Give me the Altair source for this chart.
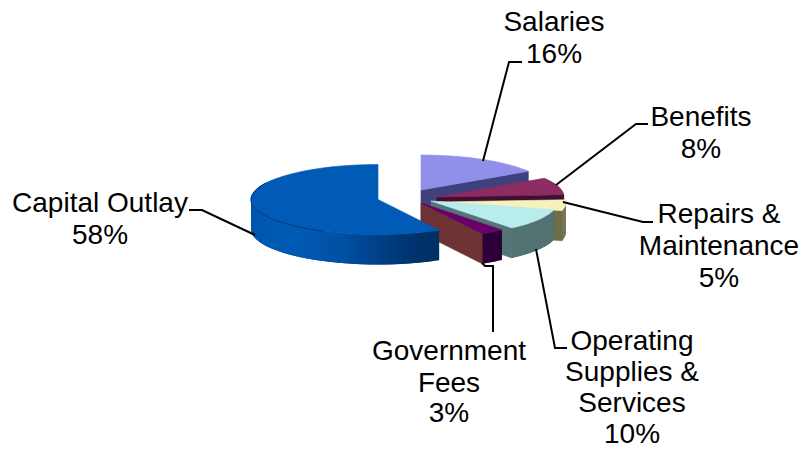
import math
import altair as alt

# Expense shares, clockwise from twelve o'clock
categories = ["Salaries", "Benefits", "Repairs & Maintenance",
              "Operating Supplies & Services", "Government Fees", "Capital Outlay"]
shares = [16, 8, 5, 10, 3, 58]

# Multi-line label text for each slice
label_lines = [
    ["Salaries", "16%"],
    ["Benefits", "8%"],
    ["Repairs &", "Maintenance", "5%"],
    ["Operating", "Supplies &", "Services", "10%"],
    ["Government", "Fees", "3%"],
    ["Capital Outlay", "58%"],
]

# Slice colours: top face, radial wall, rim stops from left to right
top_colors = ["#9090EA", "#8C2C60", "#F6F2BC", "#B9ECEC", "#68006A", "#005AB6"]
wall_colors = ["#40407E", "#3E0F30", "#6E6E48", "#547575", "#6C3234", "#00306A"]
rim_colors = [
    ["#40407E"],
    ["#4A1538"],
    ["#75755A"],
    ["#527272"],
    ["#2C0036"],
    ["#0056AC", "#005AB4", "#0050A4", "#003C80", "#002E60"],
]

# Layout in pixels
CANVAS_W, CANVAS_H = 802, 450
RX, RY, DEPTH = 127, 35, 30
centers = [(421, 190), (437, 197), (439, 202), (431, 201), (421, 203), (378, 199.5)]
label_anchor = [
    (554, [31, 63]),
    (701, [126, 158]),
    (719, [223, 255, 287]),
    (632, [350, 381, 412, 443]),
    (449, [360, 392, 422]),
    (100, [212, 244]),
]
leaders = [
    [(483, 161), (509, 62), (522, 62)],
    [(556, 185), (636, 124), (648, 124)],
    [(563, 202), (643, 222), (653, 222)],
    [(536, 249), (555, 348), (567, 348)],
    [(493, 332), (493, 266), (485, 266), (482, 263)],
    [(255, 235), (202, 210), (189, 210)],
]


def rim_point(center, angle):
    rad = math.radians(angle)
    return (center[0] + RX * math.sin(rad), center[1] - RY * math.cos(rad))


def mix(stops, t):
    if len(stops) == 1:
        return stops[0]
    pos = max(0.0, min(0.9999, t)) * (len(stops) - 1)
    i = int(pos)
    a = [int(stops[i][k:k + 2], 16) for k in (1, 3, 5)]
    b = [int(stops[i + 1][k:k + 2], 16) for k in (1, 3, 5)]
    f = pos - i
    return "#%02x%02x%02x" % tuple(round(p + (q - p) * f) for p, q in zip(a, b))


def polygon(points, fill, stroke=None, width=0.6):
    ring = [list(p) for p in points]
    ring.append(ring[0])
    return {"type": "Feature", "geometry": {"type": "Polygon", "coordinates": [ring]},
            "properties": {}, "fill": fill, "line": stroke or fill, "weight": width}


def path(points, stroke, width):
    return {"type": "Feature",
            "geometry": {"type": "LineString", "coordinates": [list(p) for p in points]},
            "properties": {}, "fill": "transparent", "line": stroke, "weight": width}


features = []
start = 0.0
for idx, share in enumerate(shares):
    end = start + share * 3.6
    c = centers[idx]
    steps = max(4, int((end - start) / 3))
    angles = [start + (end - start) * k / steps for k in range(steps + 1)]

    # Rim: quads run from the far end toward the start, each one overlapping
    # the next so the shading shows no seams
    step = (end - start) / steps
    for a0, a1 in reversed(list(zip(angles, angles[1:]))):
        if 90 - 35 < (a0 + a1) / 2 < 270 + 35:
            p0, p1 = rim_point(c, a0), rim_point(c, min(a1 + step, end))
            t = ((p0[0] + p1[0]) / 2 - (c[0] - RX)) / (2 * RX)
            if len(rim_colors[idx]) > 1:
                t = t / 0.74
            quad = [p0, p1, (p1[0], p1[1] + DEPTH), (p0[0], p0[1] + DEPTH)]
            features.append(polygon(quad, mix(rim_colors[idx], t), "transparent", 0))

    # Radial wall along the slice's clockwise edge
    if end < 300:
        tip = rim_point(c, end)
        wall = [c, tip, (tip[0], tip[1] + DEPTH), (c[0], c[1] + DEPTH)]
        features.append(polygon(wall, wall_colors[idx]))

    # Top face
    outline = [c] + [rim_point(c, a) for a in angles]
    features.append(polygon(outline, top_colors[idx]))
    start = end

# Thin shadow line along the front of the largest slice's top face
front = [rim_point(centers[5], a) for a in range(205, 300, 3)]
features.append(path(front, "#003A78", 1))

for line in leaders:
    features.append(path(line, "#000000", 2))

text_rows = []
for lines, (lx, ys) in zip(label_lines, label_anchor):
    for content, ly in zip(lines, ys):
        text_rows.append({"t": content, "px": lx, "py": ly})

shapes = (
    alt.Chart(alt.Data(values=features))
    .mark_geoshape(strokeJoin="miter")
    .encode(
        fill=alt.Fill("fill:N", scale=None),
        stroke=alt.Stroke("line:N", scale=None),
        strokeWidth=alt.StrokeWidth("weight:Q", scale=None),
    )
    .project(type="identity", scale=1, translate=[0, 0])
)

labels = (
    alt.Chart(alt.Data(values=text_rows))
    .mark_text(font="Liberation Sans", fontSize=28, align="center",
               baseline="alphabetic", color="#000000")
    .encode(
        x=alt.X("px:Q", scale=None, axis=None),
        y=alt.Y("py:Q", scale=None, axis=None),
        text="t:N",
    )
)

chart = (
    alt.layer(shapes, labels)
    .properties(width=CANVAS_W, height=CANVAS_H, padding=0, background="#ffffff",
                autosize=alt.AutoSizeParams(type="none"))
    .configure_view(stroke=None)
)

chart.save("out.html", embed_options={"renderer": "svg", "actions": False})
